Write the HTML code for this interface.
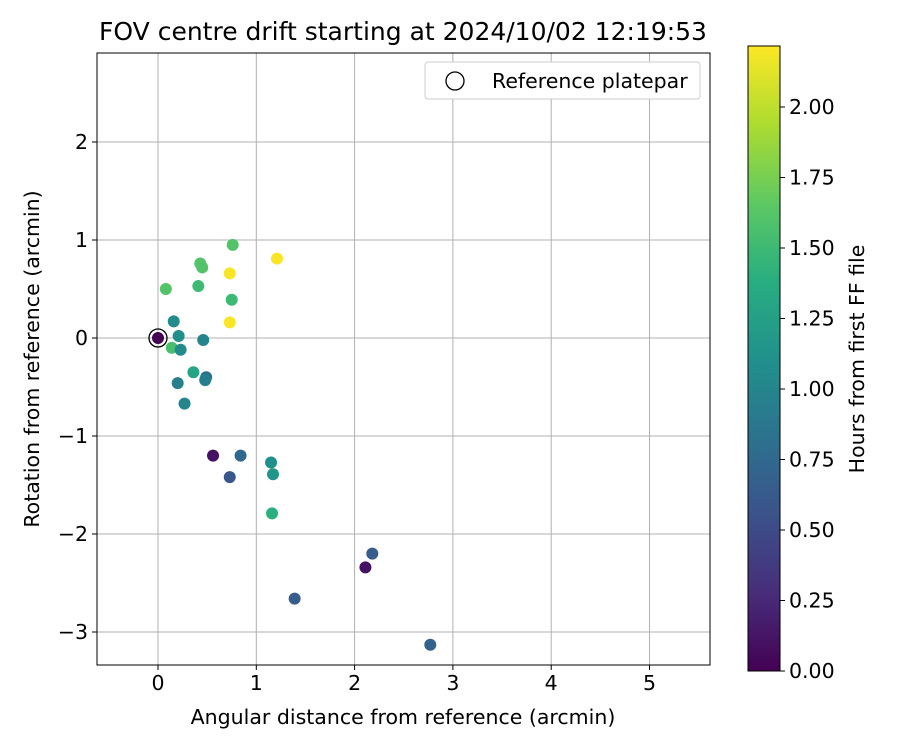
<!DOCTYPE html>
<html><head><meta charset="utf-8"><style>
body{margin:0;background:#fff;font-family:"Liberation Sans",sans-serif;}
svg text{font-family:"DejaVu Sans","Liberation Sans",sans-serif;fill:#000;}
</style></head><body>
<svg id="c" width="900" height="750" xmlns="http://www.w3.org/2000/svg">
<defs><linearGradient id="vir" x1="0" y1="1" x2="0" y2="0">
<stop offset="0" stop-color="#440154"/><stop offset="0.125" stop-color="#472d7b"/><stop offset="0.25" stop-color="#3b528b"/><stop offset="0.375" stop-color="#2c728e"/><stop offset="0.5" stop-color="#21918c"/><stop offset="0.625" stop-color="#28ae80"/><stop offset="0.75" stop-color="#5ec962"/><stop offset="0.875" stop-color="#addc30"/><stop offset="1" stop-color="#fde725"/></linearGradient></defs>
<text x="403" y="40" font-size="25" text-anchor="middle">FOV centre drift starting at 2024/10/02 12:19:53</text>
<g id="grid"></g><g id="pts"></g>
<rect x="97" y="53" width="613" height="612" fill="none" stroke="#000" stroke-width="1"/>
<g id="ticks"></g>
<text x="403" y="724" font-size="20.5" text-anchor="middle">Angular distance from reference (arcmin)</text>
<text transform="translate(39,359) rotate(-90)" font-size="20.5" text-anchor="middle">Rotation from reference (arcmin)</text>
<g>
<rect x="425" y="62" width="275" height="37" rx="3" fill="#fff" stroke="#ccc"/>
<circle cx="455" cy="81" r="9" fill="none" stroke="#000" stroke-width="1.3"/>
<text x="492" y="88" font-size="20.5">Reference platepar</text></g>
<rect x="748" y="46" width="32" height="625" fill="url(#vir)" stroke="#000"/>
<g id="cb"></g>
<text transform="translate(864,359) rotate(-90)" font-size="20.5" text-anchor="middle">Hours from first FF file</text>
</svg>
<script>
const xs=[0,0.08,0.16,0.21,0.14,0.23,0.2,0.27,0.36,0.41,0.43,0.45,0.46,0.49,0.48,0.56,0.73,0.73,0.73,0.76,0.75,0.84,1.21,1.15,1.17,1.16,1.39,2.18,2.11,2.77];
const ys=[0,0.5,0.17,0.02,-0.1,-0.12,-0.46,-0.67,-0.35,0.53,0.76,0.72,-0.02,-0.4,-0.43,-1.2,-1.42,0.66,0.16,0.95,0.39,-1.2,0.81,-1.27,-1.39,-1.79,-2.66,-2.2,-2.34,-3.13];
const hrs=[0,1.6,1.05,1.1,1.55,1.05,0.95,1.0,1.3,1.5,1.6,1.6,1.0,0.8,0.95,0.1,0.6,2.2,2.2,1.6,1.5,0.75,2.2,1.1,1.15,1.4,0.65,0.65,0.1,0.7];
const xTicks=[0,1,2,3,4,5];
const yTicks=[-3,-2,-1,0,1,2];
const cTicks=[0,0.25,0.5,0.75,1.0,1.25,1.5,1.75,2.0];
const X=v=>158+v*98.3, Y=v=>338-v*98, C=v=>671-v*282, cmax=2.216;
const ns="http://www.w3.org/2000/svg";
function mk(t,a,p){const e=document.createElementNS(ns,t);for(const k in a)e.setAttribute(k,a[k]);document.getElementById(p).appendChild(e);return e;}
const V=[[68,1,84],[71,45,123],[59,82,139],[44,114,142],[33,145,140],[40,174,128],[94,201,98],[173,220,48],[253,231,37]];
function vir(t){t=Math.max(0,Math.min(1,t))*8;const i=Math.min(7,Math.floor(t)),f=t-i;const c=V[i].map((a,k)=>Math.round(a+(V[i+1][k]-a)*f));return `rgb(${c})`;}
xTicks.forEach(v=>{const l=mk('line',{x1:X(v),x2:X(v),y1:53,y2:665,stroke:'#b0b0b0','stroke-width':1},'grid');

mk('line',{x1:X(v),x2:X(v),y1:665,y2:670,stroke:'#000'},'ticks');
const t=mk('text',{x:X(v),y:690,'font-size':20.5,'text-anchor':'middle'},'ticks');t.textContent=v;
});
yTicks.forEach(v=>{const l=mk('line',{x1:97,x2:710,y1:Y(v),y2:Y(v),stroke:'#b0b0b0','stroke-width':1},'grid');

mk('line',{x1:92,x2:97,y1:Y(v),y2:Y(v),stroke:'#000'},'ticks');
const t=mk('text',{x:88,y:Y(v)+7,'font-size':20.5,'text-anchor':'end'},'ticks');t.textContent=v<0?'\u2212'+(-v):v;
});
xs.forEach((x,i)=>{const c=mk('circle',{cx:X(x),cy:Y(ys[i]),r:6,fill:vir(hrs[i]/cmax)},'pts');
});
const r=mk('circle',{cx:X(0),cy:Y(0),r:9,fill:'none',stroke:'#000','stroke-width':1.3},'pts');

cTicks.forEach(v=>{mk('line',{x1:780,x2:785,y1:C(v),y2:C(v),stroke:'#000'},'cb');
const t=mk('text',{x:789,y:C(v)+7,'font-size':20.5},'cb');t.textContent=v.toFixed(2);
});
</script>
</body></html>
